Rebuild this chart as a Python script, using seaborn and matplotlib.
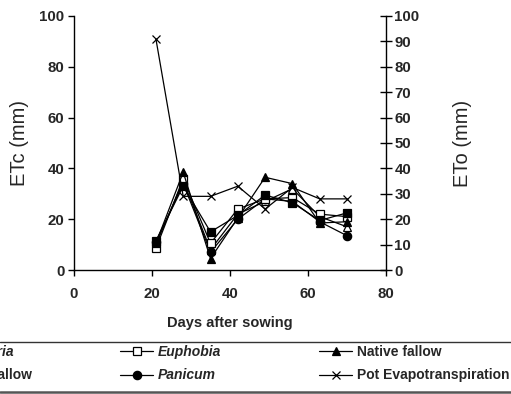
import matplotlib
matplotlib.use("Agg")
import matplotlib.pyplot as plt
from matplotlib.lines import Line2D
import numpy as np
import pandas as pd
import seaborn as sns

sns.set_style("ticks")
plt.rcParams["font.family"] = ["Liberation Sans", "DejaVu Sans"]

# Sampling days and crop evapotranspiration (mm) per cover type
days = [21, 28, 35, 42, 49, 56, 63, 70]
digitaria = [11.5, 33.0, 15.0, 21.5, 29.5, 26.5, 19.5, 22.5]
euphobia = [8.5, 36.0, 10.5, 24.0, 28.0, 28.5, 22.0, 21.0]
native_fallow = [10.5, 38.5, 4.5, 20.5, 36.5, 34.0, 18.5, 19.0]
bare_fallow = [10.0, 35.0, 8.0, 22.0, 27.0, 32.0, 21.0, 17.0]
panicum = [11.0, 34.0, 7.0, 20.0, 28.0, 27.0, 19.0, 13.5]
# Reference (pot) evapotranspiration, right axis
pot_et = [91.0, 29.0, 29.0, 33.0, 24.0, 32.5, 28.0, 28.0]

labels = ["Digitaria", "Bare fallow", "Euphobia", "Panicum",
          "Native fallow", "Pot Evapotranspiration"]
italic = {"Digitaria", "Euphobia", "Panicum"}

styles = {
    "Digitaria": dict(marker="s", mfc="black"),
    "Bare fallow": dict(marker="^", mfc="white"),
    "Euphobia": dict(marker="s", mfc="white"),
    "Panicum": dict(marker="o", mfc="black"),
    "Native fallow": dict(marker="^", mfc="black"),
    "Pot Evapotranspiration": dict(marker="x", mfc="black"),
}

etc = pd.DataFrame({
    "day": days * 5,
    "etc": digitaria + bare_fallow + euphobia + panicum + native_fallow,
    "cover": (["Digitaria"] * 8 + ["Bare fallow"] * 8 + ["Euphobia"] * 8
              + ["Panicum"] * 8 + ["Native fallow"] * 8),
})
eto = pd.DataFrame({"day": days, "eto": pot_et})

W, H = 511, 394
fig = plt.figure(figsize=(W / 100, H / 100), dpi=100)
ax = fig.add_axes([74 / W, 1 - 270 / H, (386 - 74) / W, (270 - 16) / H])
ax2 = ax.twinx()

for name in ["Bare fallow", "Panicum", "Euphobia", "Native fallow", "Digitaria"]:
    st = styles[name]
    sub = etc[etc["cover"] == name]
    sns.lineplot(data=sub, x="day", y="etc", ax=ax, color="black",
                 linewidth=0.9, marker=st["marker"], markersize=6,
                 markerfacecolor=st["mfc"], markeredgecolor="black",
                 markeredgewidth=0.9, legend=False)

sns.lineplot(data=eto, x="day", y="eto", ax=ax2, color="black",
             linewidth=0.9, marker="x", markersize=6,
             markeredgecolor="black", markeredgewidth=0.9, legend=False)

ax.set_xlim(0, 80)
ax.set_ylim(0, 100)
ax2.set_ylim(0, 100)
ax.set_xticks(np.arange(0, 81, 20))
ax.set_yticks(np.arange(0, 101, 20))
ax2.set_yticks(np.arange(0, 101, 10))

for a in (ax, ax2):
    a.spines["top"].set_visible(False)
    for s in a.spines.values():
        s.set_linewidth(1.0)
        s.set_color("black")
ax.spines["right"].set_visible(False)
ax2.spines["left"].set_visible(False)
ax2.spines["bottom"].set_visible(False)

ax.tick_params(axis="both", direction="out", length=4, width=1, color="black",
               labelsize=10.8, pad=3)
ax.tick_params(axis="x", pad=8)
ax2.tick_params(axis="y", direction="inout", length=8, width=1, color="black",
                labelsize=10.8, pad=2)
for lab in ax.get_xticklabels() + ax.get_yticklabels() + ax2.get_yticklabels():
    lab.set_fontweight("bold")

ax.set_xlabel("Days after sowing", fontsize=10.5, fontweight="bold", labelpad=11)
ax.set_ylabel("ETc (mm)", fontsize=14.5, labelpad=7)
ax2.set_ylabel("ETo (mm)", fontsize=14.5, labelpad=24)
ax.grid(False)
ax2.grid(False)

# Legend: three columns of two entries, placed in figure pixels
def handle(name):
    st = styles[name]
    return Line2D([], [], color="black", linewidth=0.9, marker=st["marker"],
                  markersize=6, markerfacecolor=st["mfc"],
                  markeredgecolor="black", markeredgewidth=0.9)

col_x = [-79, 120, 319]
for c in range(3):
    names = labels[2 * c:2 * c + 2]
    leg = fig.legend([handle(n) for n in names], names,
                     loc="upper left",
                     bbox_to_anchor=(col_x[c] / W, 1 - 345 / H),
                     bbox_transform=fig.transFigure,
                     frameon=False, borderpad=0, borderaxespad=0,
                     handlelength=2.4, handletextpad=0.3,
                     labelspacing=0.68,
                     prop=dict(size=10, weight="bold"))
    for t in leg.get_texts():
        if t.get_text() in italic:
            t.set_fontstyle("italic")

fig.add_artist(Line2D([0, 1], [1 - 341.5 / H, 1 - 341.5 / H],
                      transform=fig.transFigure, color="#333333", linewidth=1.0))
fig.add_artist(Line2D([0, 1], [1 - 392.3 / H, 1 - 392.3 / H],
                      transform=fig.transFigure, color="#555555", linewidth=1.8))

fig.savefig("out.png", dpi=100)
